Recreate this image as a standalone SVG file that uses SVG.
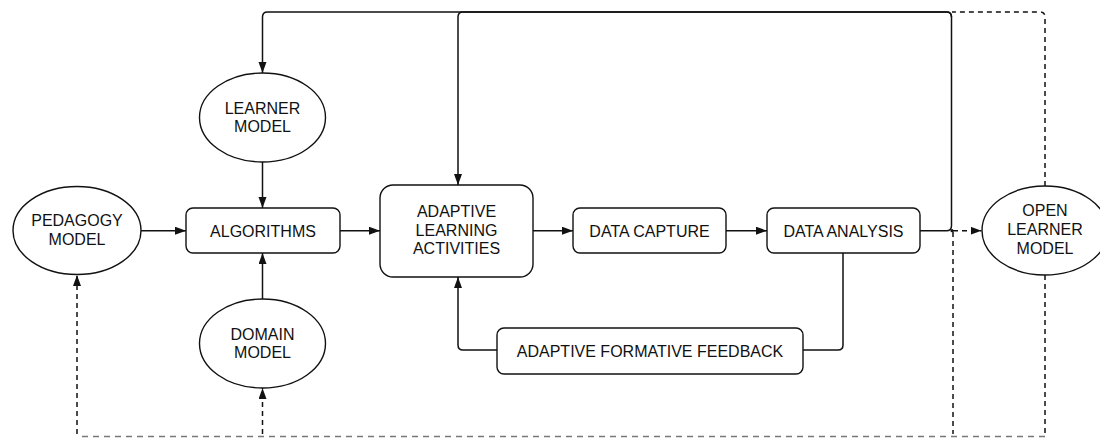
<svg xmlns="http://www.w3.org/2000/svg" width="1100" height="441" viewBox="0 0 1100 441">
<style>
.n{fill:#fff;stroke:#111;stroke-width:1.4}
.t{font-family:"Liberation Sans",Arial,Helvetica,sans-serif;font-size:16px;fill:#111;text-anchor:middle}
.c{fill:none;stroke:#111;stroke-width:1.5}
.d{fill:none;stroke:#111;stroke-width:1.5;stroke-dasharray:5 4}
.g{fill:none;stroke:#777;stroke-width:1.4;stroke-dasharray:6 5}
</style>
<defs>
<marker id="a" markerUnits="userSpaceOnUse" markerWidth="12" markerHeight="9" refX="11" refY="4" orient="auto">
<path d="M0,0 L11,4 L0,8 z" fill="#111"/>
</marker>
</defs>
<g id="connectors">
<path class="c" d="M141,230.7 H186" marker-end="url(#a)"/>
<path class="c" d="M262.5,162 V208" marker-end="url(#a)"/>
<path class="c" d="M262.5,299 V253" marker-end="url(#a)"/>
<path class="c" d="M340,230.7 H380" marker-end="url(#a)"/>
<path class="c" d="M533,230.7 H573" marker-end="url(#a)"/>
<path class="c" d="M726,230.7 H767" marker-end="url(#a)"/>
<path class="c" d="M920,230.7 H946.5 Q951.5,230.7 951.5,225.7 V17 Q951.5,12 946.5,12 H267.5 Q262.5,12 262.5,17 V73" marker-end="url(#a)"/>
<path class="c" d="M951.5,17 Q951.5,12 946.5,12 H463 Q458,12 458,17 V185" marker-end="url(#a)"/>
<path class="c" d="M843,253 V345 Q843,350 838,350 H803"/>
<path class="c" d="M497,350 H463 Q458,350 458,345 V277" marker-end="url(#a)"/>
<path class="d" d="M953,230.7 H981.5" marker-end="url(#a)"/>
<circle cx="952" cy="230.7" r="1.6" fill="#111"/>
<path class="d" d="M1045,186 V17 Q1045,12 1040,12 H952"/>
<path class="d" d="M953,232 V434"/>
<path class="d" d="M1045,275 V434"/>
<path class="g" d="M1045,436.5 H77"/>
<path class="d" d="M77,434 V275" marker-end="url(#a)"/>
<path class="d" d="M262.5,434 V388" marker-end="url(#a)"/>
</g>
<g id="learner-model">
<ellipse class="n" cx="262.5" cy="117.5" rx="63" ry="44.5"/>
<text class="t" x="262.5" y="113.5">LEARNER</text>
<text class="t" x="262.5" y="132">MODEL</text>
</g>
<g id="pedagogy-model">
<ellipse class="n" cx="77" cy="230.5" rx="64" ry="44"/>
<text class="t" x="77" y="225.5">PEDAGOGY</text>
<text class="t" x="77" y="244.5">MODEL</text>
</g>
<g id="domain-model">
<ellipse class="n" cx="262.5" cy="343.5" rx="63" ry="44.5"/>
<text class="t" x="262.5" y="339.5">DOMAIN</text>
<text class="t" x="262.5" y="358">MODEL</text>
</g>
<g id="algorithms">
<rect class="n" x="186" y="208" width="154" height="45" rx="7"/>
<text class="t" x="263" y="236.5">ALGORITHMS</text>
</g>
<g id="adaptive-learning-activities">
<rect class="n" x="380" y="185" width="153" height="92" rx="13"/>
<text class="t" x="456.5" y="217">ADAPTIVE</text>
<text class="t" x="456.5" y="235.5">LEARNING</text>
<text class="t" x="456.5" y="254">ACTIVITIES</text>
</g>
<g id="data-capture">
<rect class="n" x="573" y="208" width="153" height="45" rx="7"/>
<text class="t" x="649.5" y="236.5">DATA CAPTURE</text>
</g>
<g id="data-analysis">
<rect class="n" x="767" y="208" width="153" height="45" rx="7"/>
<text class="t" x="843.5" y="236.5">DATA ANALYSIS</text>
</g>
<g id="adaptive-formative-feedback">
<rect class="n" x="497" y="328" width="306" height="46" rx="7"/>
<text class="t" x="650" y="356.5">ADAPTIVE FORMATIVE FEEDBACK</text>
</g>
<g id="open-learner-model">
<ellipse class="n" cx="1045" cy="230.5" rx="63" ry="44.5"/>
<text class="t" x="1045" y="216">OPEN</text>
<text class="t" x="1045" y="235">LEARNER</text>
<text class="t" x="1045" y="253.5">MODEL</text>
</g>
</svg>
